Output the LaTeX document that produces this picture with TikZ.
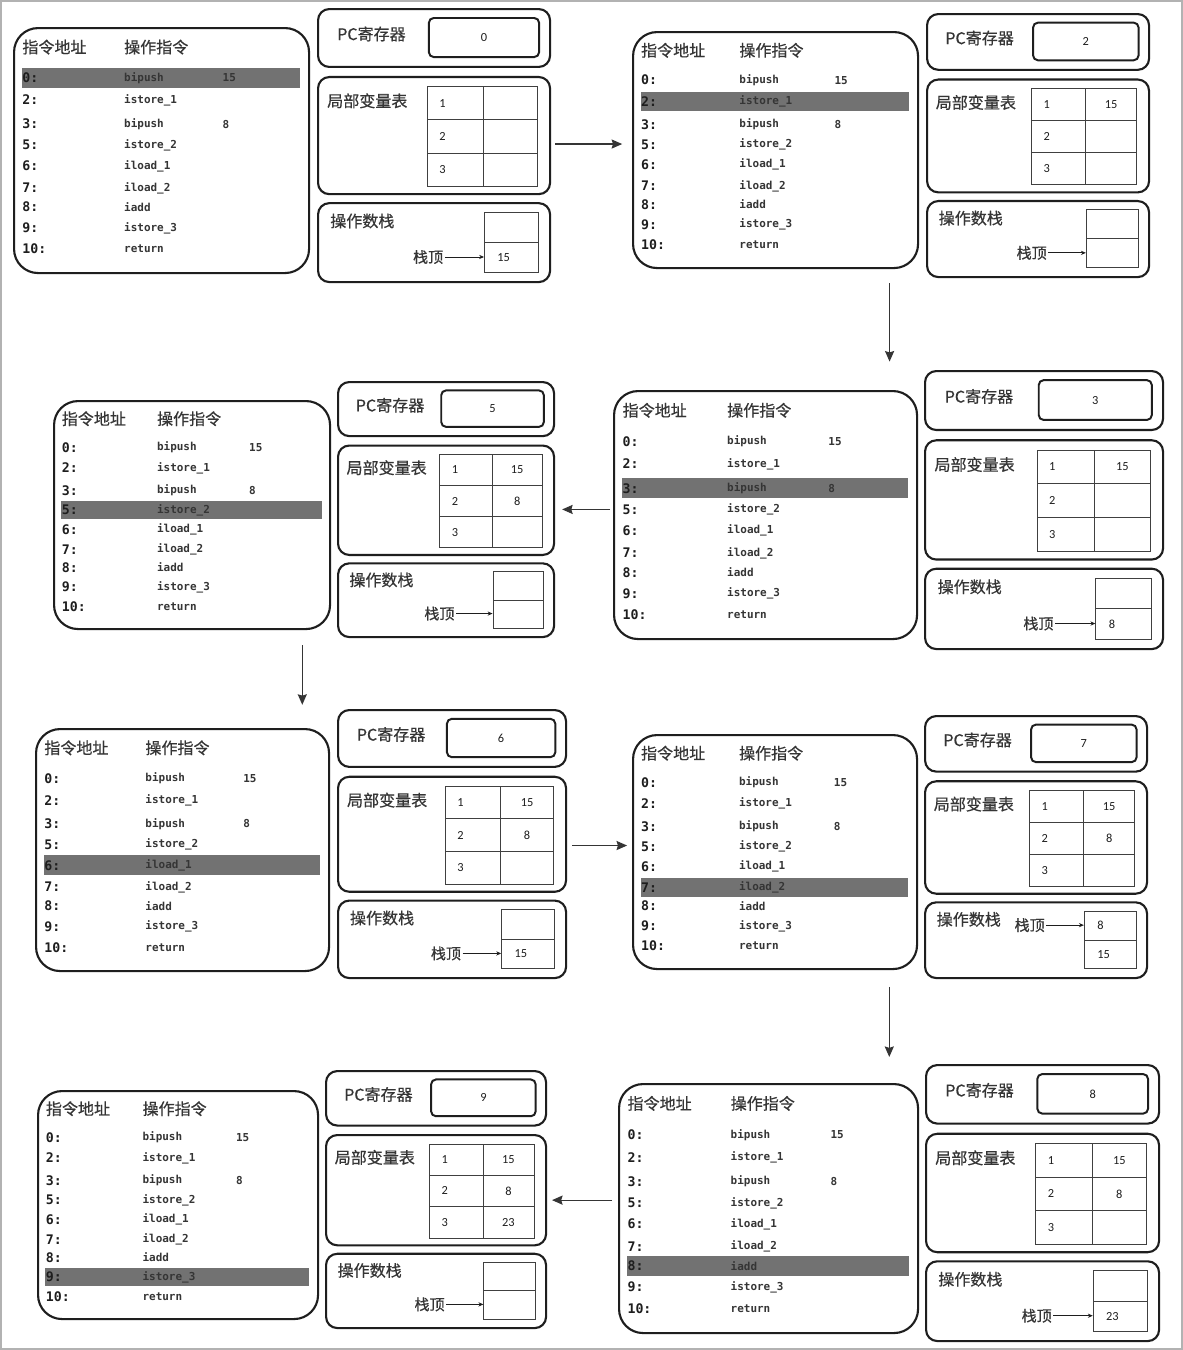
\documentclass[tikz,border=0pt]{standalone}
\usepackage{fontspec}
\setmainfont{Carlito}
\setmonofont{DejaVu Sans Mono}
\newfontfamily\cjk{Noto Sans CJK SC}[FakeBold=0.5]
\usetikzlibrary{positioning, arrows.meta}

\definecolor{ink}{HTML}{1E1E1E}
\definecolor{bar}{HTML}{727272}

\newcommand{\pxu}{0.025cm}
\newcommand{\cellfont}{\fontsize{8.8}{10}\selectfont}

\tikzset{
	>={Stealth[length=7.5pt,width=6.5pt,inset=1pt]}, % heads of the step arrows
	codeframe/.style={draw=ink, line width=1.5pt, rounded corners=0.6cm, inner sep=0pt},
	regframe/.style={draw=ink, line width=1.5pt, rounded corners=0.28cm, inner sep=0pt},
	pcbox/.style={draw=ink, line width=1.4pt, rounded corners=0.12cm, inner sep=0pt, text=ink, font=\cellfont},
	cell/.style={draw=ink!85, line width=0.6pt, inner sep=0pt, text=ink, font=\cellfont},
	head/.style={inner sep=0pt, text=ink!90, font=\cjk\fontsize{11.4}{13}\selectfont},
	ptrlabel/.style={inner sep=0pt, text=ink!90, font=\cjk\fontsize{10.7}{12}\selectfont},
	addr/.style={inner sep=0pt, text=ink, font=\ttfamily\bfseries\fontsize{9.4}{11}\selectfont},
	instr/.style={inner sep=0pt, text=ink!90, font=\ttfamily\bfseries\fontsize{7.8}{10}\selectfont},
	hilite/.style={fill=bar},
	flow/.style={->, draw=ink!90, line width=0.8pt},
	ptr/.style={-{Stealth[length=3.5pt,width=3pt]}, draw=ink, line width=0.6pt},
}

% instruction list: name, top left, bottom right, current row
\newcommand{\codebox}[6]{%
	\pgfmathsetmacro\insw{#4-#2}
	\pgfmathsetmacro\insh{#5-#3}
	\node[codeframe, anchor=north west, minimum width=\insw*\pxu, minimum height=\insh*\pxu] (#1) at (#2,#3) {};
	\node[head, anchor=west] (#1-ha) at (#2+0.031*\insw, #3+0.082*\insh) {指令地址};
	\node[head, anchor=west] (#1-hb) at (#2+0.376*\insw, #3+0.082*\insh) {操作指令};
	\foreach \ad/\ins/\opnd/\ry [count=\rw] in {0:/bipush/15/0.208, 2:/istore\_1//0.298, 3:/bipush/8/0.396, 5:/istore\_2//0.482, 6:/iload\_1//0.567, 7:/iload\_2//0.657, 8:/iadd//0.735, 9:/istore\_3//0.82, 10:/return//0.906}{
		\ifnum\rw=#6
			\fill[hilite] (#2+0.03*\insw, #3+\ry*\insh-0.041*\insh) rectangle (#4-0.027*\insw, #3+\ry*\insh+0.041*\insh);
		\fi
		\node[addr, anchor=west] (#1-a\rw) at (#2+0.031*\insw, #3+\ry*\insh) {\ad};
		\node[instr, anchor=west] (#1-b\rw) at (#2+0.376*\insw, #3+\ry*\insh) {\ins};
		\ifx\opnd\empty\else
			\node[instr, anchor=west] (#1-c\rw) at (#2+0.71*\insw, #3+\ry*\insh) {\opnd};
		\fi
	}
}

% local variable table, three values
\newcommand{\localcells}[3]{%
	\pgfmathsetlengthmacro\idxw{(0.242*\colw-24)*0.025cm}
	\foreach \rw in {1,2,3}{
		\node[cell, anchor=north west, minimum width=0.242*\colw*\pxu, minimum height=0.122*\colh*\pxu, inner xsep=12*\pxu, text width=\idxw, align=left] (\colname-k\rw) at (\colx+0.474*\colw, \coly+0.164*\colh+0.122*\rw*\colh) {\rw};
	}
	\node[cell, anchor=north west, minimum width=0.232*\colw*\pxu, minimum height=0.122*\colh*\pxu] (\colname-v1) at (\colx+0.716*\colw, \coly+0.286*\colh) {#1};
	\node[cell, anchor=north west, minimum width=0.232*\colw*\pxu, minimum height=0.122*\colh*\pxu] (\colname-v2) at (\colx+0.716*\colw, \coly+0.408*\colh) {#2};
	\node[cell, anchor=north west, minimum width=0.232*\colw*\pxu, minimum height=0.122*\colh*\pxu] (\colname-v3) at (\colx+0.716*\colw, \coly+0.530*\colh) {#3};
}

% operand stack, two slots
\newcommand{\stackcells}[2]{%
	\pgfmathsetlengthmacro\stkw{(0.233*\colw-26)*0.025cm}
	\node[cell, anchor=north west, minimum width=0.233*\colw*\pxu, minimum height=0.11*\colh*\pxu, inner xsep=13*\pxu, text width=\stkw, align=left] (\colname-s1) at (\colx+0.72*\colw, \coly+0.747*\colh) {#1};
	\node[cell, anchor=north west, minimum width=0.233*\colw*\pxu, minimum height=0.11*\colh*\pxu, inner xsep=13*\pxu, text width=\stkw, align=left] (\colname-s2) at (\colx+0.72*\colw, \coly+0.857*\colh) {#2};
}

% register column: name, top left, bottom right, pc, locals, stack, top slot
\newcommand{\statebox}[9]{%
	\pgfmathsetmacro\colw{#4-#2}
	\pgfmathsetmacro\colh{#5-#3}
	\def\colx{#2}\def\coly{#3}\def\colname{#1}
	\node[regframe, anchor=north west, minimum width=\colw*\pxu, minimum height=0.212*\colh*\pxu] (#1-pc) at (#2,#3) {};
	\node[head, anchor=west] (#1-pcl) at (#2+0.086*\colw, #3+0.095*\colh) {PC寄存器};
	\node[pcbox, anchor=north west, minimum width=0.475*\colw*\pxu, minimum height=0.143*\colh*\pxu] (#1-pcv) at (#2+0.478*\colw, #3+0.033*\colh) {#6};
	\node[regframe, anchor=north west, minimum width=\colw*\pxu, minimum height=0.429*\colh*\pxu] (#1-loc) at (#2, #3+0.249*\colh) {};
	\node[head, anchor=west] (#1-locl) at (#2+0.043*\colw, #3+0.34*\colh) {局部变量表};
	\localcells#7
	\node[regframe, anchor=north west, minimum width=\colw*\pxu, minimum height=0.289*\colh*\pxu] (#1-stk) at (#2, #3+0.711*\colh) {};
	\node[head, anchor=west] (#1-stkl) at (#2+0.056*\colw, #3+0.78*\colh) {操作数栈};
	\stackcells#8
	\node[ptrlabel, anchor=east] (#1-top) at (#2+0.545*\colw, #3+0.692*\colh+0.11*#9*\colh) {栈顶};
	\draw[ptr, shorten <=1pt] (#1-top.east) -- (#1-top.east -| #1-s#9.west);
}

\begin{document}
\begin{tikzpicture}[x=0.025cm, y=-0.025cm]
	\fill[white] (0,0) rectangle (1183,1350);
	\draw[black!30, line width=0.8pt] (1,1) rectangle (1182,1349);
	% pc = 0, 2
	\codebox{i0}{13}{27}{308}{272}{1}
	\statebox{r0}{317}{8}{549}{281}{0}{{}{}{}}{{}{15}}{2}
	\codebox{i2}{632}{31}{917}{267}{2}
	\statebox{r2}{926}{13}{1148}{276}{2}{{15}{}{}}{{}{}}{2}
	% pc = 5, 3
	\codebox{i3}{613}{390}{916}{638}{3}
	\statebox{r3}{924}{370}{1162}{648}{3}{{15}{}{}}{{}{8}}{2}
	\codebox{i5}{53}{400}{329}{628}{4}
	\statebox{r5}{337}{381}{553}{636}{5}{{15}{8}{}}{{}{}}{2}
	% pc = 6, 7
	\codebox{i6}{35}{728}{328}{970}{5}
	\statebox{r6}{337}{709}{565}{977}{6}{{15}{8}{}}{{}{15}}{2}
	\codebox{i7}{632}{734}{916}{968}{6}
	\statebox{r7}{924}{715}{1146}{977}{7}{{15}{8}{}}{{8}{15}}{1}
	% pc = 9, 8
	\codebox{i8}{618}{1083}{917}{1332}{7}
	\statebox{r8}{925}{1064}{1158}{1340}{8}{{15}{8}{}}{{}{23}}{2}
	\codebox{i9}{37}{1090}{317}{1318}{8}
	\statebox{r9}{325}{1070}{545}{1327}{9}{{15}{8}{23}}{{}{}}{2}

	% steps
	\draw[flow, shorten <=3pt, shorten >=7pt] ([yshift=-6pt]r0-loc.east) -- ([yshift=-6pt]r0-loc.east -| i2.west);
	\draw[flow, shorten <=10pt, shorten >=6pt] ([xshift=-21pt]i2.south east) -- ([xshift=-21pt]i2.south east |- r3-pc.north);
	\draw[flow, shorten <=2pt, shorten >=5pt] ([yshift=4pt]i3.west) -- ([yshift=4pt]i3.west -| r5-loc.east);
	\draw[flow, shorten <=10.6pt, shorten >=3pt] ([xshift=-20.5pt]i5.south east) -- ([xshift=-20.5pt]i5.south east |- r6-pc.north);
	\draw[flow, shorten <=3.5pt, shorten >=3.5pt] ([yshift=-8pt]r6-loc.east) -- ([yshift=-8pt]r6-loc.east -| i7.west);
	\draw[flow, shorten <=12pt, shorten >=5pt] ([xshift=-20.5pt]i7.south east) -- ([xshift=-20.5pt]i7.south east |- r8-pc.north);
	\draw[flow, shorten <=4.2pt, shorten >=3.5pt] ([yshift=6pt]i8.west) -- ([yshift=6pt]i8.west -| r9-loc.east);
\end{tikzpicture}
\end{document}
